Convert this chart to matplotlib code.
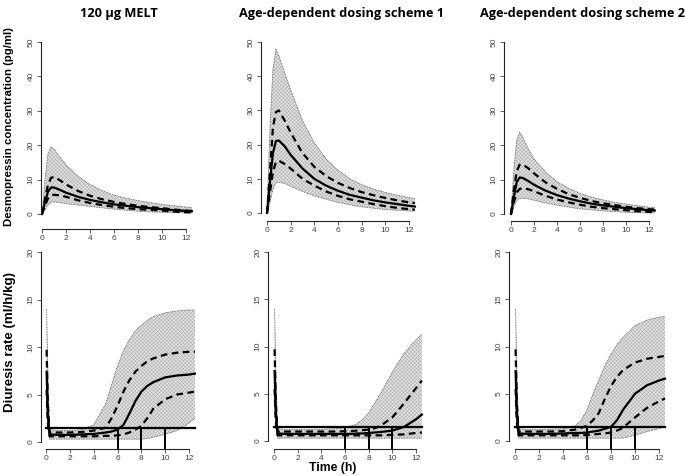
import numpy as np
import matplotlib
matplotlib.use('Agg')
import matplotlib.pyplot as plt

plt.rcParams['hatch.linewidth'] = 0.3
plt.rcParams['font.family'] = ['Liberation Sans', 'DejaVu Sans']

titles = ['120 \u00b5g MELT', 'Age-dependent dosing scheme 1', 'Age-dependent dosing scheme 2']

# desmopressin concentration (pg/ml)
t_conc = [0, 0.25, 0.5, 0.75, 1, 1.5, 2, 3, 4, 5, 6, 7, 8, 9, 10, 11, 12, 12.5]
conc_med = [
    [0, 3.5, 6.5, 7.7, 7.7, 7.0, 6.2, 5.0, 4.1, 3.4, 2.8, 2.4, 2.0, 1.7, 1.4, 1.1, 0.9, 0.8],
    [0, 9, 17.5, 21, 21.2, 19.5, 17, 13, 10, 8, 6.5, 5.3, 4.5, 3.7, 3.1, 2.6, 2.1, 1.9],
    [0, 5, 9.3, 10.6, 10.5, 9.6, 8.5, 6.8, 5.5, 4.5, 3.7, 3.0, 2.5, 2.1, 1.7, 1.4, 1.1, 1.0],
]
conc_q75 = [
    [0, 4.5, 8.5, 10.5, 10.8, 9.8, 8.6, 6.7, 5.3, 4.3, 3.5, 2.9, 2.4, 2.0, 1.7, 1.3, 1.0, 0.9],
    [0, 12, 25, 29.5, 30, 27, 23.5, 17.5, 13.5, 10.8, 8.8, 7.3, 6.1, 5.2, 4.4, 3.7, 3.1, 2.9],
    [0, 7, 12.5, 14.3, 14.4, 13.3, 11.8, 9.2, 7.3, 5.8, 4.7, 3.8, 3.1, 2.6, 2.1, 1.7, 1.4, 1.3],
]
conc_q25 = [
    [0, 2.5, 4.5, 5.4, 5.6, 5.4, 5.0, 4.0, 3.2, 2.6, 2.1, 1.7, 1.4, 1.2, 1.0, 0.7, 0.5, 0.5],
    [0, 6, 12, 14.8, 15.3, 14.3, 13, 10, 8, 6.3, 5, 4, 3.3, 2.6, 2.0, 1.5, 1.1, 1.0],
    [0, 3.5, 6.3, 7.3, 7.5, 7.2, 6.6, 5.3, 4.2, 3.4, 2.7, 2.1, 1.7, 1.4, 1.1, 0.8, 0.6, 0.6],
]
conc_hi = [
    [0, 10, 17.5, 19.5, 18.8, 16.5, 14.3, 11, 8.6, 6.8, 5.5, 4.6, 3.9, 3.3, 2.8, 2.4, 2.0, 1.9],
    [0, 25, 42, 47.8, 46, 41, 36, 27, 20.5, 15.8, 12.5, 10, 8.3, 7, 6, 5.2, 4.5, 4.2],
    [0, 13, 21.5, 23.8, 22.5, 19, 16, 12.2, 9.4, 7.5, 6, 4.9, 4.1, 3.4, 2.9, 2.4, 2.0, 1.9],
]
conc_lo = [
    [0, 1.2, 2.6, 3.4, 3.5, 3.3, 3.0, 2.6, 2.2, 1.8, 1.4, 1.1, 0.8, 0.6, 0.5, 0.4, 0.3, 0.3],
    [0, 3, 7, 8.8, 9, 8.6, 7.8, 6.3, 5, 4, 3.1, 2.4, 1.8, 1.4, 1.0, 0.8, 0.6, 0.5],
    [0, 2, 4, 4.5, 4.6, 4.4, 4.0, 3.2, 2.6, 2.0, 1.5, 1.2, 0.9, 0.7, 0.5, 0.4, 0.3, 0.3],
]

# diuresis rate (ml/h/kg)
t_diu = [0.05, 0.15, 0.3, 1, 2, 3, 4, 5, 5.5, 6, 6.5, 7, 7.5, 8, 8.5, 9, 10, 11, 12, 12.5]
diu_med = [
    [7.4, 3, 0.8, 0.75, 0.75, 0.8, 0.85, 1.0, 1.1, 1.3, 1.8, 3.0, 4.3, 5.3, 5.9, 6.3, 6.8, 7.0, 7.1, 7.2],
    [7.4, 3, 0.8, 0.75, 0.75, 0.75, 0.75, 0.75, 0.75, 0.75, 0.75, 0.8, 0.8, 0.85, 0.9, 0.95, 1.1, 1.5, 2.3, 2.8],
    [7.4, 3, 0.8, 0.75, 0.75, 0.75, 0.8, 0.85, 0.85, 0.9, 1.0, 1.1, 1.3, 1.5, 2.2, 3.3, 5.0, 5.9, 6.4, 6.6],
]
diu_q75 = [
    [9.7, 4, 1.0, 1.0, 1.0, 1.05, 1.2, 1.5, 2.5, 3.8, 5.3, 6.5, 7.4, 8.0, 8.5, 8.8, 9.2, 9.4, 9.5, 9.5],
    [9.7, 4, 1.0, 1.0, 1.0, 1.0, 1.0, 1.0, 1.0, 1.05, 1.05, 1.1, 1.15, 1.2, 1.35, 1.6, 2.5, 4.0, 5.6, 6.4],
    [9.7, 4, 1.0, 1.0, 1.0, 1.0, 1.05, 1.2, 1.4, 1.6, 2.2, 3.0, 4.5, 5.8, 6.8, 7.5, 8.3, 8.7, 8.9, 9.0],
]
diu_q25 = [
    [5.5, 2, 0.6, 0.6, 0.6, 0.6, 0.6, 0.65, 0.65, 0.7, 0.8, 1.0, 1.3, 1.7, 2.5, 3.5, 4.5, 5.0, 5.2, 5.3],
    [5.5, 2, 0.6, 0.6, 0.6, 0.6, 0.6, 0.6, 0.6, 0.6, 0.6, 0.6, 0.6, 0.6, 0.6, 0.6, 0.65, 0.7, 0.85, 0.9],
    [5.5, 2, 0.6, 0.6, 0.6, 0.6, 0.6, 0.6, 0.6, 0.65, 0.7, 0.75, 0.8, 0.9, 1.1, 1.4, 2.5, 3.5, 4.2, 4.5],
]
diu_hi = [
    [14, 8, 1.3, 1.2, 1.2, 1.3, 1.8, 4.0, 6.0, 8.0, 9.6, 10.8, 11.7, 12.3, 12.8, 13.2, 13.6, 13.8, 13.9, 13.9],
    [14, 8, 1.3, 1.2, 1.2, 1.2, 1.25, 1.3, 1.35, 1.4, 1.6, 1.8, 2.3, 3.0, 4.0, 5.0, 7.3, 9.3, 10.7, 11.3],
    [14, 8, 1.3, 1.2, 1.2, 1.25, 1.3, 1.6, 2.2, 3.3, 5.0, 6.5, 8.0, 9.2, 10.2, 11.0, 12.2, 12.8, 13.1, 13.2],
]
diu_lo = [
    [4, 1.5, 0.3, 0.3, 0.3, 0.3, 0.3, 0.3, 0.3, 0.3, 0.3, 0.3, 0.3, 0.3, 0.35, 0.5, 0.8, 1.2, 2.0, 2.5],
    [4, 1.5, 0.3, 0.3, 0.3, 0.3, 0.3, 0.3, 0.3, 0.3, 0.3, 0.3, 0.3, 0.3, 0.3, 0.3, 0.3, 0.3, 0.3, 0.3],
    [4, 1.5, 0.3, 0.3, 0.3, 0.3, 0.3, 0.3, 0.3, 0.3, 0.3, 0.3, 0.3, 0.3, 0.3, 0.3, 0.6, 1.0, 1.3, 1.5],
]

threshold = 1.5
cut_times = [6, 8, 10]

W, H = 685, 476
fig = plt.figure(figsize=(W / 100, H / 100), dpi=100)

# panel geometry in pixels: y-axis x, x-axis y, px of x=0, px of x=12, px of y=0, px of y=top
top_geo = [(41, 229, 42, 186, 214, 42), (261, 221, 267, 409, 213, 42), (504, 221, 511, 649, 214, 42)]
bot_geo = [(41, 449, 46, 189, 442, 252), (268, 449, 274, 416, 441, 252), (509, 449, 515, 659, 441, 252)]
title_x = [119, 342, 582]


def make_axes(geo, ytop):
    yax, xax, x0, x12, y0, yt = geo
    sx = (x12 - x0) / 12.0
    sy = (y0 - yt) / float(ytop)
    right = x0 + 12.75 * sx
    topp = yt - 4
    ax = fig.add_axes([yax / W, 1 - xax / H, (right - yax) / W, (xax - topp) / H])
    ax.set_xlim(-(x0 - yax) / sx, 12.75)
    ax.set_ylim(-(xax - y0) / sy, ytop + 4 / sy)
    ax.patch.set_alpha(0)
    for s in ['top', 'right']:
        ax.spines[s].set_visible(False)
    ax.spines['left'].set_bounds(0, ytop)
    ax.spines['bottom'].set_bounds(0, 12)
    for s in ['left', 'bottom']:
        ax.spines[s].set_linewidth(0.8)
        ax.spines[s].set_color('#222222')
    ax.set_xticks(range(0, 13, 2))
    ax.tick_params(length=3, width=0.6, color='#444444', labelsize=6,
                   labelcolor='#444444', pad=1.5)
    return ax


def draw(ax, t, med, q75, q25, hi, lo):
    ax.fill_between(t, lo, hi, facecolor='#e2e2e2', edgecolor='#a6a6a6',
                    hatch='xxxxxxxxx', linewidth=0)
    ax.plot(t, hi, color='#555555', lw=0.6, ls=(0, (1, 1)))
    ax.plot(t, lo, color='#555555', lw=0.6, ls=(0, (1, 1)))
    ax.plot(t, q75, color='black', lw=1.6, ls=(0, (3, 2)))
    ax.plot(t, q25, color='black', lw=1.6, ls=(0, (3, 2)))
    ax.plot(t, med, color='black', lw=1.6)


for i in range(3):
    ax = make_axes(top_geo[i], 50)
    ax.set_yticks(range(0, 51, 10))
    for lab in ax.get_yticklabels():
        lab.set_rotation(90)
        lab.set_va('center')
    draw(ax, t_conc, conc_med[i], conc_q75[i], conc_q25[i], conc_hi[i], conc_lo[i])
    fig.text(title_x[i] / W, 1 - 13 / H, titles[i], ha='center', va='center', fontsize=9.2,
             fontweight='bold', family=['Open Sans', 'DejaVu Sans'])

    ax = make_axes(bot_geo[i], 20)
    ax.set_yticks(range(0, 21, 5))
    for lab in ax.get_yticklabels():
        lab.set_rotation(90)
        lab.set_va('center')
    draw(ax, t_diu, diu_med[i], diu_q75[i], diu_q25[i], diu_hi[i], diu_lo[i])
    ybot = ax.get_ylim()[0]
    ax.plot([0, 12.5], [threshold, threshold], color='black', lw=1.6)
    for ct in cut_times:
        ax.plot([ct, ct], [ybot, threshold], color='black', lw=1.4, clip_on=False)

fig.text(9 / W, 1 - 126 / H, 'Desmopressin concentration (pg/ml)', rotation=90,
         ha='center', va='center', fontsize=8.2, fontweight='bold')
fig.text(10 / W, 1 - 342 / H, 'Diuresis rate (ml/h/kg)', rotation=90,
         ha='center', va='center', fontsize=9.6, fontweight='bold')
fig.text(333 / W, 1 - 468 / H, 'Time (h)', ha='center', va='center',
         fontsize=8.8, fontweight='bold')

fig.savefig('out.png', dpi=100)
